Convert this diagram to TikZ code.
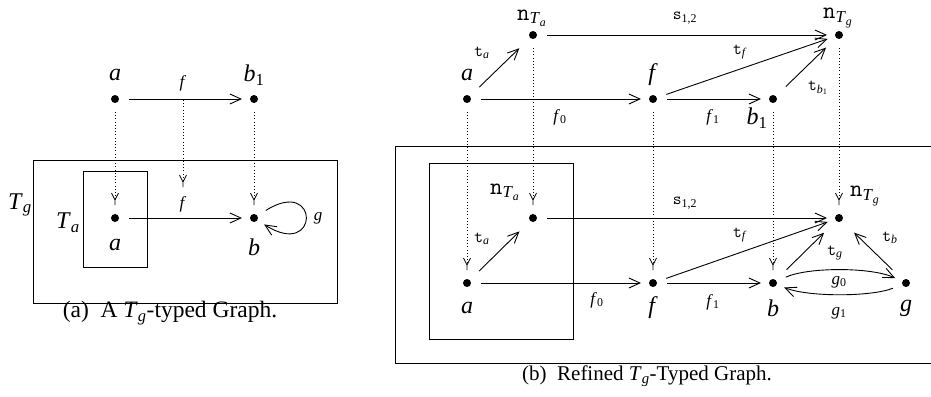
\documentclass[tikz,border=0pt]{standalone}
\usepackage{fontspec}
\setmainfont{Liberation Serif}
\usetikzlibrary{arrows.meta}
\pgfdeclarearrow{
  name = Ystem,
  setup code = {
    \pgfarrowssettipend{0pt}
    \pgfarrowssetlineend{-5pt}
    \pgfarrowssetbackend{-12pt}
    \pgfarrowshullpoint{0pt}{0pt}
    \pgfarrowsupperhullpoint{-12pt}{3.5pt}
  },
  drawing code = {
    \pgfsetdash{}{0pt}
    \pgfpathmoveto{\pgfqpoint{0pt}{0pt}}
    \pgfpathlineto{\pgfqpoint{-5pt}{0pt}}
    \pgfpathmoveto{\pgfqpoint{-12pt}{3.5pt}}
    \pgfpathlineto{\pgfqpoint{-5pt}{0pt}}
    \pgfpathlineto{\pgfqpoint{-12pt}{-3.5pt}}
    \pgfusepathqstroke
  }
}
\newcommand{\sbi}[1]{\textsubscript{\textit{#1}}}
\begin{document}
\begin{tikzpicture}[x=1pt,y=-1pt,
  dotnode/.style={circle,fill=black,minimum size=8pt,inner sep=0pt,outer sep=0pt},
  lbl/.style={font=\fontsize{24}{26}\selectfont,inner sep=0pt},
  elbl/.style={font=\fontsize{17}{19}\selectfont,inner sep=0pt},
  captext/.style={font=\fontsize{21}{24}\selectfont,inner sep=0pt},
  con/.style={line width=0.9pt,-{Straight Barb[length=11pt,width=10pt]},shorten <=10pt,shorten >=8pt},
  typ/.style={line width=0.8pt,dash pattern=on 0.9pt off 2.3pt,-{Ystem},shorten <=9pt,shorten >=9pt},
  frame/.style={line width=1pt}]
\useasboundingbox (0,0) rectangle (931,396);

% ---------------- (a) ----------------
\draw[frame] (33,160) rectangle (337,303);
\draw[frame] (83,171) rectangle (147,267);
\node[dotnode] (aT) at (115,99) {};
\node[dotnode] (b1T) at (254,99) {};
\node[dotnode] (aB) at (115,218) {};
\node[dotnode] (bB) at (254,218) {};
\coordinate (fT) at (183,100);
\coordinate (fB) at (183,187);

\node[lbl] (laT) at (115,75) {\textit{a}};
\node[lbl] (lb1T) at (254,75) {\textit{b}\textsubscript{1}};
\node[elbl] (lfT) at (183,83) {\textit{f}};
\node[elbl] (lfB) at (183,204) {\textit{f}};
\node[lbl] (laB) at (115,245) {\textit{a}};
\node[lbl] (lbB) at (254,247) {\textit{b}};
\node[lbl] (lTa) at (68,223) {\textit{T}\sbi{a}};
\node[lbl] (lTg) at (20,205) {\textit{T}\sbi{g}};
\node[elbl] (lg) at (318,218) {\textit{g}};

\draw[con] (aT) -- (b1T);
\draw[con] (aB) -- (bB);
\draw[con] (bB) .. controls +(66,-42) and +(66,42) .. (bB);
\draw[typ] (aT) -- (aB);
\draw[typ] (b1T) -- (bB);
\draw[typ,shorten <=0pt,shorten >=0pt] (fT) -- (fB);

\node[captext,font=\fontsize{23.5}{26}\selectfont] (capa) at (170,313) {(a)\ \ A \textit{T}\sbi{g}-typed Graph.};

% ---------------- (b) ----------------
\draw[frame] (395,146) -- (940,146) (395,146) -- (395,363) -- (940,363);
\draw[frame] (429,163) rectangle (573,339);

\node[dotnode] (nTaT) at (533,35) {};
\node[dotnode] (nTgT) at (839,35) {};
\node[dotnode] (aT2) at (467,99) {};
\node[dotnode] (fT2) at (653,99) {};
\node[dotnode] (b1T2) at (773,99) {};

\node[dotnode] (nTaB) at (533,218) {};
\node[dotnode] (nTgB) at (839,218) {};
\node[dotnode] (aB2) at (467,283) {};
\node[dotnode] (fB2) at (653,283) {};
\node[dotnode] (bB2) at (773,283) {};
\node[dotnode] (gB2) at (906,283) {};

% labels top
\node[lbl] (lnTaT) at (532,18) {\texttt{n}\textsubscript{\textit{T}\sbi{a}}};
\node[lbl] (lnTgT) at (838,18) {\texttt{n}\textsubscript{\textit{T}\sbi{g}}};
\node[lbl] (laT2) at (467,75) {\textit{a}};
\node[lbl] (lfT2) at (653,75) {\textit{f}};
\node[lbl] (lb1T2) at (757,118) {\textit{b}\textsubscript{1}};
\node[elbl] (ltaT) at (482,53) {\texttt{t}\sbi{a}};
\node[elbl] (ls12T) at (685,18) {\texttt{s}\textsubscript{1,2}};
\node[elbl] (ltfT) at (740,52) {\texttt{t}\sbi{f}};
\node[elbl] (lf0T) at (560,117) {\textit{f}\textsubscript{0}};
\node[elbl] (lf1T) at (713,117) {\textit{f}\textsubscript{1}};
\node[elbl] (ltb1T) at (818,88) {\texttt{t}\textsubscript{\textit{b}\textsubscript{1}}};

% labels bottom
\node[lbl] (lnTaB) at (505,192) {\texttt{n}\textsubscript{\textit{T}\sbi{a}}};
\node[lbl] (lnTgB) at (865,196) {\texttt{n}\textsubscript{\textit{T}\sbi{g}}};
\node[elbl] (ltaB) at (482,239) {\texttt{t}\sbi{a}};
\node[elbl] (ls12B) at (685,203) {\texttt{s}\textsubscript{1,2}};
\node[elbl] (ltfB) at (740,235) {\texttt{t}\sbi{f}};
\node[lbl] (laB2) at (467,308) {\textit{a}};
\node[lbl] (lfB2) at (653,308) {\textit{f}};
\node[lbl] (lbB2) at (773,308) {\textit{b}};
\node[lbl] (lgB2) at (906,308) {\textit{g}};
\node[elbl] (lf0B) at (597,300) {\textit{f}\textsubscript{0}};
\node[elbl] (lf1B) at (713,302) {\textit{f}\textsubscript{1}};
\node[elbl] (ltgB) at (835,253) {\texttt{t}\sbi{g}};
\node[elbl] (ltbB) at (890,238) {\texttt{t}\sbi{b}};
\node[elbl] (lg0B) at (839,282) {\textit{g}\textsubscript{0}};
\node[elbl] (lg1B) at (839,313) {\textit{g}\textsubscript{1}};

% connectors top
\draw[con,shorten <=13pt,shorten >=15pt] (aT2) -- (nTaT);
\draw[con] (nTaT) -- (nTgT);
\draw[con] (aT2) -- (fT2);
\draw[con] (fT2) -- (b1T2);
\draw[con] (fT2) -- (nTgT);
\draw[con,shorten <=14pt,shorten >=14pt] (b1T2) -- (nTgT);

% connectors bottom
\draw[con,shorten <=13pt,shorten >=15pt] (aB2) -- (nTaB);
\draw[con] (nTaB) -- (nTgB);
\draw[con] (aB2) -- (fB2);
\draw[con] (fB2) -- (bB2);
\draw[con] (fB2) -- (nTgB);
\draw[con,shorten <=15pt,shorten >=17pt] (bB2) -- (nTgB);
\draw[con,shorten <=15pt,shorten >=17pt] (gB2) -- (nTgB);
\draw[con] (bB2) .. controls +(35,-16) and +(-35,-16) .. (gB2);
\draw[con] (gB2) .. controls +(-35,14) and +(35,14) .. (bB2);

% typing (dotted)
\draw[typ] (aT2) -- (aB2);
\draw[typ] (nTaT) -- (nTaB);
\draw[typ] (fT2) -- (fB2);
\draw[typ] (b1T2) -- (bB2);
\draw[typ] (nTgT) -- (nTgB);

\node[captext] (capb) at (647,376) {(b)\ \ Refined \textit{T}\sbi{g}-Typed Graph.};
\end{tikzpicture}
\end{document}
